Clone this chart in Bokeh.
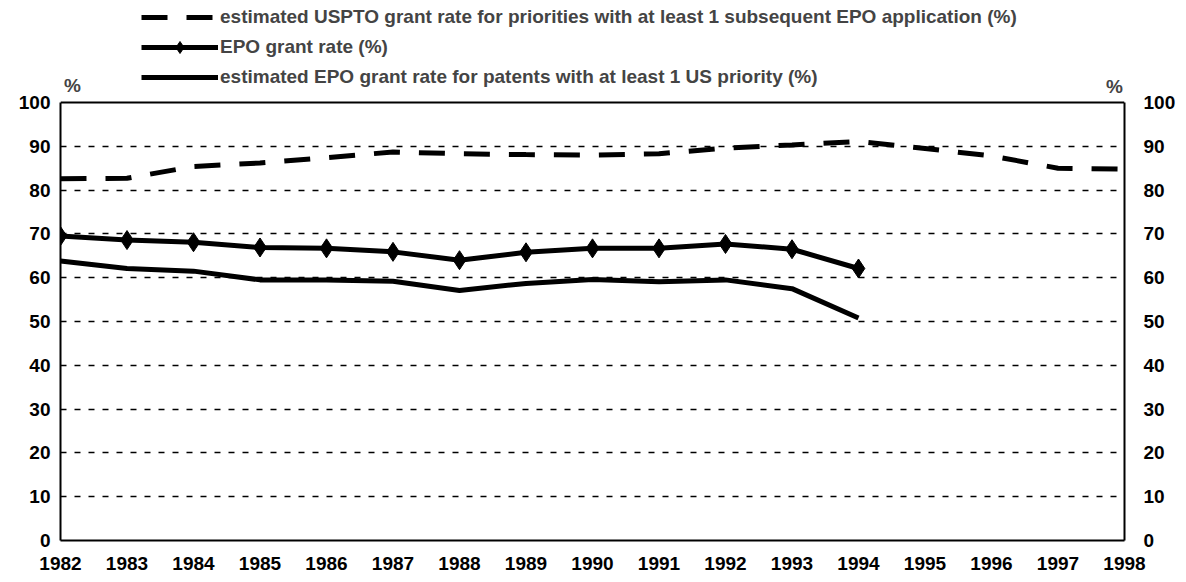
from bokeh.plotting import figure
from bokeh.models import (Range1d, LinearAxis, FixedTicker, Legend, LegendItem, Label, Span)
from bokeh.embed import file_html
from bokeh.resources import INLINE

years_all = list(range(1982, 1999))
years_epo = list(range(1982, 1995))

uspto_rate = [82.6, 82.7, 85.4, 86.2, 87.4, 88.7, 88.3, 88.1, 88.0, 88.3,
              89.6, 90.3, 91.1, 89.5, 87.8, 85.0, 84.8]
epo_rate = [69.5, 68.6, 68.1, 66.9, 66.7, 65.9, 64.0, 65.8, 66.7, 66.7,
            67.7, 66.5, 62.1]
epo_us_rate = [63.8, 62.1, 61.5, 59.5, 59.5, 59.2, 57.1, 58.7, 59.6, 59.1,
               59.5, 57.5, 50.8]

y_ticks = list(range(0, 101, 10))

legend_labels = [
    "estimated USPTO grant rate for priorities with at least 1 subsequent EPO application (%)",
    "EPO grant rate (%)",
    "estimated EPO grant rate for patents with at least 1 US priority (%)",
]

FONT = "Liberation Sans"
FS = "19px"

# frame extends above 100 so that legend and "%" marks are drawn inside it
Y_TOP = 100 * 540 / 438

p = figure(width=1178, height=582, output_backend="svg", toolbar_location=None,
           x_range=Range1d(1982, 1998), y_range=Range1d(0, Y_TOP),
           min_border_left=60, min_border_right=50, min_border_top=0,
           min_border_bottom=42)
p.background_fill_color = "white"
p.border_fill_color = "white"
p.outline_line_color = None

r1 = p.line(years_all, uspto_rate, line_color="black", line_width=5,
            line_dash="26 19")
r2 = p.line(years_epo, epo_rate, line_color="black", line_width=5)
r2m = p.scatter(years_epo, epo_rate, marker="diamond", size=19,
                fill_color="black", line_color="black")
r3 = p.line(years_epo, epo_us_rate, line_color="black", line_width=5)

# top border of the chart box at 100
p.add_layout(Span(location=100, dimension="width", line_color="black",
                  line_width=2))

# axes
p.xaxis.ticker = FixedTicker(ticks=years_all)
p.yaxis.ticker = FixedTicker(ticks=y_ticks)
p.add_layout(LinearAxis(ticker=FixedTicker(ticks=y_ticks)), "right")

for ax in p.axis:
    ax.axis_line_color = "black"
    ax.axis_line_width = 2
    ax.major_tick_line_color = "black"
    ax.major_tick_in = 0
    ax.major_tick_out = 0
    ax.minor_tick_line_color = None
    ax.major_label_text_font = FONT
    ax.major_label_text_font_size = FS
    ax.major_label_text_font_style = "bold"
    ax.major_label_text_color = "black"

for ax in p.yaxis:
    ax.bounds = (0, 100)

p.xaxis.major_label_standoff = 16
p.yaxis[0].major_label_standoff = 10
p.yaxis[1].major_label_standoff = 19

p.xgrid.grid_line_color = None
p.ygrid.ticker = FixedTicker(ticks=list(range(10, 100, 10)))
p.ygrid.grid_line_color = "black"
p.ygrid.grid_line_width = 1.5
p.ygrid.grid_line_dash = "6 8"

# percent labels above the axes
p.add_layout(Label(x=1982.18, y=103.9, text="%", text_font=FONT,
                   text_font_size=FS, text_font_style="bold",
                   text_align="center", text_baseline="middle"))
p.add_layout(Label(x=1997.85, y=103.6, text="%", text_font=FONT,
                   text_font_size=FS, text_font_style="bold",
                   text_align="center", text_baseline="middle"))

legend = Legend(items=[
    LegendItem(label=legend_labels[0], renderers=[r1]),
    LegendItem(label=legend_labels[1], renderers=[r2, r2m]),
    LegendItem(label=legend_labels[2], renderers=[r3]),
], location=(81, 448))
legend.label_text_font = FONT
legend.label_text_font_size = FS
legend.label_text_font_style = "bold"
legend.glyph_width = 77
legend.glyph_height = 30
legend.label_height = 30
legend.label_standoff = 2
legend.spacing = 0
legend.padding = 0
legend.margin = 0
legend.border_line_color = None
legend.background_fill_alpha = 0
p.add_layout(legend, "center")

open("out.html", "w").write(file_html(p, INLINE))
